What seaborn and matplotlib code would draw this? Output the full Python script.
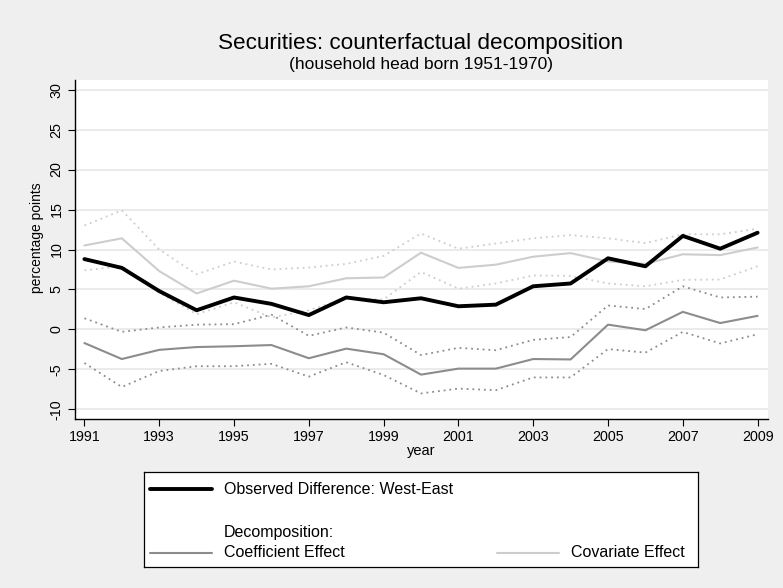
import numpy as np
import pandas as pd
import matplotlib
matplotlib.use("Agg")
import matplotlib.pyplot as plt
from matplotlib.lines import Line2D
import seaborn as sns

# Survey years
years = list(range(1991, 2010))

# Observed West-East difference in securities ownership (percentage points)
observed = [8.8, 7.7, 4.8, 2.4, 4.0, 3.2, 1.8, 4.0, 3.4, 3.9, 2.9, 3.1, 5.4, 5.75, 8.9, 7.9, 11.7, 10.1, 12.1]

# Coefficient effect with confidence band
coef = [-1.7, -3.7, -2.55, -2.2, -2.1, -1.95, -3.6, -2.4, -3.1, -5.65, -4.9, -4.9, -3.7, -3.75, 0.6, -0.1, 2.2, 0.8, 1.7]
coef_hi = [1.4, -0.3, 0.25, 0.6, 0.66, 1.85, -0.8, 0.25, -0.4, -3.2, -2.3, -2.6, -1.3, -0.95, 3.0, 2.55, 5.4, 4.0, 4.1]
coef_lo = [-4.2, -7.2, -5.2, -4.6, -4.6, -4.3, -5.9, -4.1, -5.7, -8.0, -7.4, -7.6, -6.0, -6.0, -2.45, -2.9, -0.3, -1.75, -0.6]

# Covariate effect with confidence band
cov = [10.5, 11.4, 7.3, 4.5, 6.1, 5.1, 5.4, 6.4, 6.5, 9.6, 7.7, 8.1, 9.1, 9.55, 8.5, 8.2, 9.4, 9.3, 10.25]
cov_hi = [13.0, 14.9, 10.0, 6.9, 8.5, 7.5, 7.75, 8.2, 9.2, 12.0, 10.1, 10.75, 11.4, 11.8, 11.4, 10.8, 11.9, 11.9, 12.6]
cov_lo = [7.4, 7.9, 4.6, 1.9, 3.4, 1.5, 2.4, 3.9, 3.75, 7.2, 5.1, 5.75, 6.75, 6.7, 5.75, 5.4, 6.2, 6.25, 7.9]

x_ticks = list(range(1991, 2010, 2))
y_ticks = list(range(-10, 31, 5))

title = "Securities: counterfactual decomposition"
subtitle = "(household head born 1951-1970)"

df = pd.DataFrame({
    "year": years, "observed": observed,
    "coef": coef, "coef_hi": coef_hi, "coef_lo": coef_lo,
    "cov": cov, "cov_hi": cov_hi, "cov_lo": cov_lo,
})

sns.set_style("white")
plt.rcParams["font.family"] = ["Liberation Sans", "DejaVu Sans"]
plt.rcParams["text.color"] = "black"
plt.rcParams["axes.labelcolor"] = "black"
plt.rcParams["xtick.color"] = "black"
plt.rcParams["ytick.color"] = "black"

BG = "#efefef"
DARK = "#8c8c8c"
LIGHT = "#cdcdcd"
DOT = (0, (1, 2.2))
W, H = 783, 588

fig = plt.figure(figsize=(W / 100, H / 100), dpi=100, facecolor=BG)
ax = fig.add_axes([74.7 / W, 1 - 419 / H, (767.7 - 74.7) / W, (419 - 80) / H])
ax.set_facecolor("white")

for y in y_ticks:
    ax.axhline(y, color="#e8e8e8", lw=1.2, zorder=0)

sns.lineplot(data=df, x="year", y="cov_hi", ax=ax, color=LIGHT, lw=1.3, linestyle=DOT)
sns.lineplot(data=df, x="year", y="cov_lo", ax=ax, color=LIGHT, lw=1.3, linestyle=DOT)
sns.lineplot(data=df, x="year", y="coef_hi", ax=ax, color=DARK, lw=1.3, linestyle=DOT)
sns.lineplot(data=df, x="year", y="coef_lo", ax=ax, color=DARK, lw=1.3, linestyle=DOT)
sns.lineplot(data=df, x="year", y="cov", ax=ax, color=LIGHT, lw=1.5)
sns.lineplot(data=df, x="year", y="coef", ax=ax, color=DARK, lw=1.5)
sns.lineplot(data=df, x="year", y="observed", ax=ax, color="black", lw=2.8)

ax.set_xlim(1990.74, 2009.27)
ax.set_ylim(-11.2, 31.2)
ax.set_xticks(x_ticks)
ax.set_xticklabels([str(t) for t in x_ticks], fontsize=10.3)
ax.set_yticks(y_ticks)
ax.set_yticklabels([str(t) for t in y_ticks], fontsize=10.3, rotation=90, va="center")
ax.tick_params(axis="both", direction="out", length=5, width=0.8, color="black", pad=3)
ax.tick_params(axis="x", bottom=True)
ax.tick_params(axis="y", left=True)
for side in ("top", "right"):
    ax.spines[side].set_visible(False)
for side in ("left", "bottom"):
    ax.spines[side].set_color("black")
    ax.spines[side].set_linewidth(1.0)
ax.set_xlabel("year", fontsize=10.5, labelpad=0)
ax.set_ylabel("percentage points", fontsize=10, labelpad=2)
ax.yaxis.set_label_coords((44 - 74.7) / (767.7 - 74.7), (419 - 238) / (419 - 80))

cx = 421 / W
fig.text(cx, 1 - 43 / H, title, ha="center", va="center", fontsize=16.2)
fig.text(cx, 1 - 64 / H, subtitle, ha="center", va="center", fontsize=12.5)

# Legend box
lx0, lx1, ly0, ly1 = 144, 698, 472, 567
lax = fig.add_axes([lx0 / W, 1 - ly1 / H, (lx1 - lx0) / W, (ly1 - ly0) / H])
lax.set_xlim(lx0, lx1)
lax.set_ylim(ly1, ly0)
lax.set_xticks([])
lax.set_yticks([])
lax.set_facecolor("white")
for s in lax.spines.values():
    s.set_color("black")
    s.set_linewidth(0.9)

LFS = 11.5
lax.add_line(Line2D([150, 212], [489, 489], color="black", lw=2.8))
lax.text(224, 489, "Observed Difference: West-East", va="center", fontsize=LFS)
lax.text(224, 532, "Decomposition:", va="center", fontsize=LFS)
lax.add_line(Line2D([150, 212], [552.5, 552.5], color=DARK, lw=1.5))
lax.text(224, 552.5, "Coefficient Effect", va="center", fontsize=LFS)
lax.add_line(Line2D([497, 559], [552.5, 552.5], color=LIGHT, lw=1.5))
lax.text(571, 552.5, "Covariate Effect", va="center", fontsize=LFS)

fig.savefig("out.png", dpi=100, facecolor=BG)
